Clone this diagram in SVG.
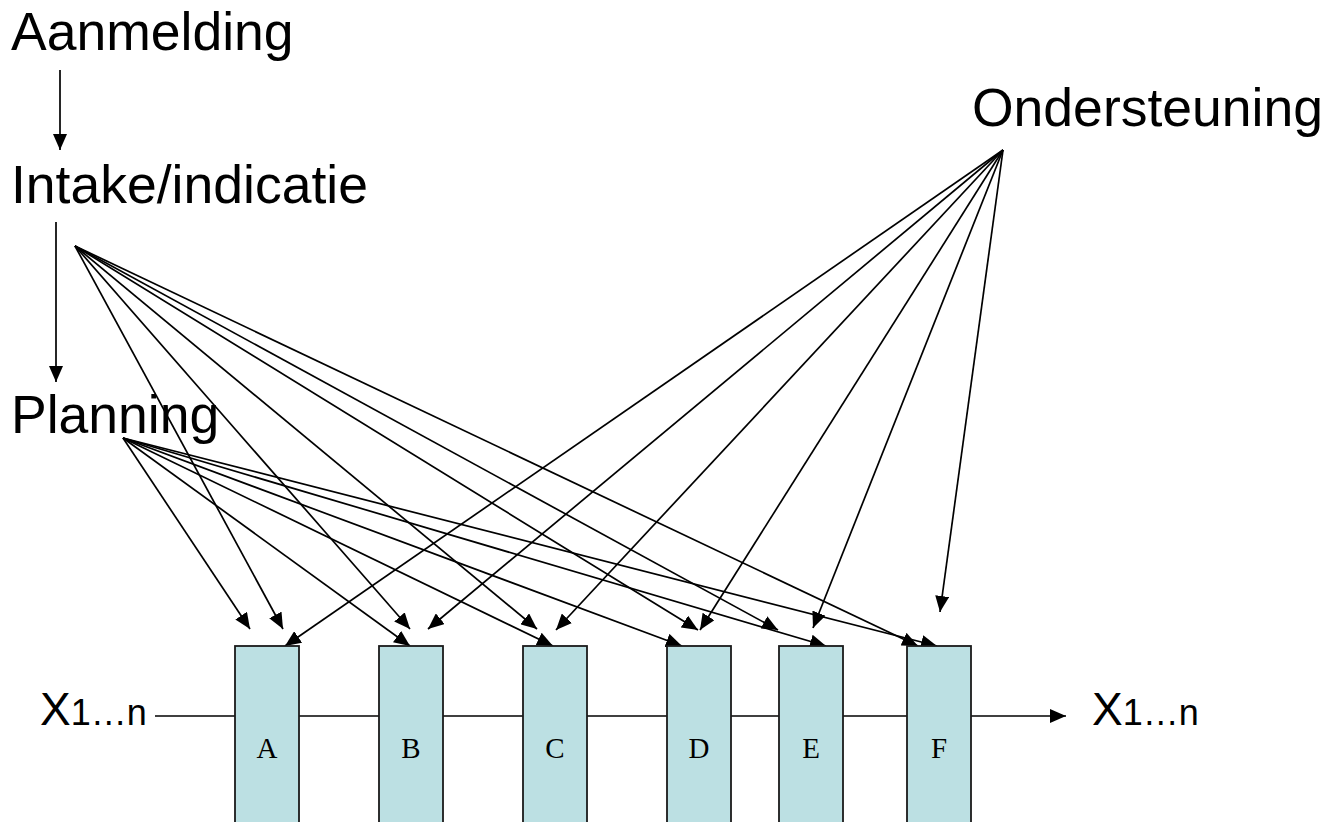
<svg xmlns="http://www.w3.org/2000/svg" width="1328" height="822" viewBox="0 0 1328 822">
<style>
.lbl{font-family:"Liberation Sans",Arial,sans-serif;font-size:53.5px;fill:#000}
.box{fill:#bce0e3;stroke:#1a1a1a;stroke-width:1.8}
.bt{font-family:"Liberation Serif","Times New Roman",serif;font-size:29px;fill:#000;text-anchor:middle}
.c{stroke:#000;stroke-width:1.7;fill:none;marker-end:url(#ah)}
</style>
<defs>
<marker id="ah" viewBox="0 0 16 14" refX="16" refY="7" markerWidth="16" markerHeight="14" markerUnits="userSpaceOnUse" orient="auto">
<path d="M0,0 L16,7 L0,14 z" fill="#000"/>
</marker>
</defs>
<rect width="1328" height="822" fill="#fff"/>
<g id="connectors">
<line class="c" x1="60" y1="70" x2="60" y2="150"/>
<line class="c" x1="56" y1="222" x2="56" y2="382"/>
<line class="c" x1="155" y1="716" x2="1066" y2="716"/>
<line class="c" x1="75" y1="246" x2="283" y2="629"/>
<line class="c" x1="75" y1="246" x2="410" y2="629"/>
<line class="c" x1="75" y1="246" x2="537" y2="629"/>
<line class="c" x1="75" y1="246" x2="698" y2="630"/>
<line class="c" x1="75" y1="246" x2="778" y2="630"/>
<line class="c" x1="75" y1="246" x2="918" y2="646"/>
<line class="c" x1="123" y1="438" x2="250" y2="629"/>
<line class="c" x1="123" y1="438" x2="410" y2="646"/>
<line class="c" x1="123" y1="438" x2="553" y2="646"/>
<line class="c" x1="123" y1="438" x2="682" y2="646"/>
<line class="c" x1="123" y1="438" x2="826" y2="646"/>
<line class="c" x1="123" y1="438" x2="937" y2="646"/>
<line class="c" x1="1003" y1="150" x2="285" y2="646"/>
<line class="c" x1="1003" y1="150" x2="428" y2="629"/>
<line class="c" x1="1003" y1="150" x2="556" y2="630"/>
<line class="c" x1="1003" y1="150" x2="700" y2="630"/>
<line class="c" x1="1003" y1="150" x2="813" y2="628"/>
<line class="c" x1="1003" y1="150" x2="940" y2="612"/>
</g>
<g id="aanmelding"><text class="lbl" x="11" y="50">Aanmelding</text></g>
<g id="intake"><text class="lbl" x="11" y="203">Intake/indicatie</text></g>
<g id="planning"><text class="lbl" x="11" y="433">Planning</text></g>
<g id="ondersteuning"><text class="lbl" x="972" y="126">Ondersteuning</text></g>
<g id="x-in"><text x="40" y="725" font-family="Liberation Sans, Arial, sans-serif"><tspan font-size="46">X</tspan><tspan font-size="36">1…n</tspan></text></g>
<g id="x-out"><text x="1092" y="725" font-family="Liberation Sans, Arial, sans-serif"><tspan font-size="46">X</tspan><tspan font-size="36">1…n</tspan></text></g>
<g id="box-a"><rect class="box" x="235" y="646" width="64" height="200"/><text class="bt" x="267" y="758">A</text></g>
<g id="box-b"><rect class="box" x="379" y="646" width="64" height="200"/><text class="bt" x="411" y="758">B</text></g>
<g id="box-c"><rect class="box" x="523" y="646" width="64" height="200"/><text class="bt" x="555" y="758">C</text></g>
<g id="box-d"><rect class="box" x="667" y="646" width="64" height="200"/><text class="bt" x="699" y="758">D</text></g>
<g id="box-e"><rect class="box" x="779" y="646" width="64" height="200"/><text class="bt" x="811" y="758">E</text></g>
<g id="box-f"><rect class="box" x="907" y="646" width="64" height="200"/><text class="bt" x="939" y="758">F</text></g>
</svg>
